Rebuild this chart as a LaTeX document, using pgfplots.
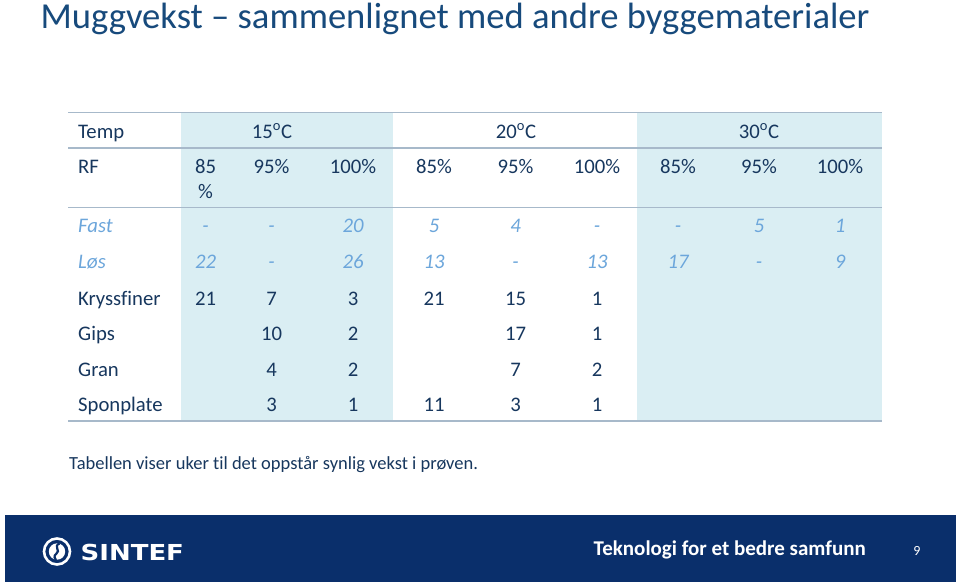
\documentclass[border=0pt]{standalone}
\usepackage{fontspec}
\setmainfont{Carlito}[Ligatures=NoCommon]
\newfontfamily\logofont{DejaVu Sans}
\usepackage{pgfplots}
\pgfplotsset{compat=1.18}
\usepackage{pgfplotstable}

\definecolor{titleblue}{HTML}{174A7C}
\definecolor{dark}{HTML}{17375E}
\definecolor{light}{HTML}{6CA6DB}
\definecolor{shade}{HTML}{DAEEF3}
\definecolor{rule}{HTML}{A7B9CA}
\definecolor{footer}{HTML}{0A2F6B}

% row names
\pgfplotstableread[col sep=comma]{
x,y,label
78,138,Temp
78,173,RF
78,305,Kryssfiner
78,340,Gips
78,376,Gran
78,411,Sponplate
}\rownames

\pgfplotstableread[col sep=comma]{
x,y,label
78,232,Fast
78,268,Løs
}\rownamesit

% header cells
\pgfplotstableread[col sep=comma]{
x,y,label
272,138,15\textsuperscript{o}C
516,138,20\textsuperscript{o}C
759,138,30\textsuperscript{o}C
205.5,173,85
205.5,198,\%
271.5,173,95\%
353,173,100\%
434,173,85\%
515.5,173,95\%
597,173,100\%
678,173,85\%
759,173,95\%
840,173,100\%
}\header

% Fast / Løs (weeks)
\pgfplotstableread[col sep=comma]{
x,y,label
205.5,232,-
271.5,232,-
353,232,20
434,232,5
515.5,232,4
597,232,-
678,232,-
759,232,5
840,232,1
205.5,268,22
271.5,268,-
353,268,26
434,268,13
515.5,268,-
597,268,13
678,268,17
759,268,-
840,268,9
}\woodcells

% other materials (weeks)
\pgfplotstableread[col sep=comma]{
x,y,label
205.5,305,21
271.5,305,7
353,305,3
434,305,21
515.5,305,15
597,305,1
271.5,340,10
353,340,2
515.5,340,17
597,340,1
271.5,376,4
353,376,2
515.5,376,7
597,376,2
271.5,411,3
353,411,1
434,411,11
515.5,411,3
597,411,1
}\matcells

\pgfplotsset{
  txt/.style={only marks, mark=none, nodes near coords, point meta=explicit symbolic,
    nodes near coords style={anchor=base, inner sep=0pt}},
  tline/.style={draw=rule, line width=1.6pt, mark=none},
}

\begin{document}
\begin{tikzpicture}
\begin{axis}[
  scale only axis, width=959pt, height=584pt,
  xmin=0, xmax=959, ymin=0, ymax=584, y dir=reverse,
  hide axis, clip=false,
]
% background
\addplot[fill=white, draw=none] coordinates {(0,0)(959,0)(959,584)(0,584)} -- cycle;

% shaded column groups
\addplot[fill=shade, draw=none] coordinates {(180.5,112)(393,112)(393,421)(180.5,421)} -- cycle;
\addplot[fill=shade, draw=none] coordinates {(637.3,112)(881.5,112)(881.5,421)(637.3,421)} -- cycle;

% table rules
\addplot[tline] coordinates {(68,112.3)(882,112.3)};
\addplot[tline] coordinates {(68,147.7)(882,147.7)};
\addplot[tline] coordinates {(68,207.5)(882,207.5)};
\addplot[tline] coordinates {(68,420.7)(882,420.7)};

% table text
\addplot[txt, nodes near coords style={anchor=base west, font=\fontsize{20.7}{24}\selectfont, text=dark}]
  table[x=x, y=y, meta=label] {\rownames};
\addplot[txt, nodes near coords style={anchor=base west, font=\fontsize{20.7}{24}\selectfont\itshape, text=light}]
  table[x=x, y=y, meta=label] {\rownamesit};
\addplot[txt, nodes near coords style={font=\fontsize{20.7}{24}\selectfont, text=dark}]
  table[x=x, y=y, meta=label] {\header};
\addplot[txt, nodes near coords style={font=\fontsize{20.7}{24}\selectfont\itshape, text=light}]
  table[x=x, y=y, meta=label] {\woodcells};
\addplot[txt, nodes near coords style={font=\fontsize{20.7}{24}\selectfont, text=dark}]
  table[x=x, y=y, meta=label] {\matcells};

% footer band
\addplot[fill=footer, draw=none] coordinates {(5,515)(956,515)(956,581.5)(5,581.5)} -- cycle;

% title and note
\node[anchor=base west, inner sep=0pt, text=titleblue, font=\fontsize{36.6}{40}\selectfont]
  at (axis cs:40.5,28.3) {Muggvekst – sammenlignet med andre byggematerialer};
\node[anchor=base west, inner sep=0pt, text=dark, font=\fontsize{18.5}{22}\selectfont]
  at (axis cs:69,469) {Tabellen viser uker til det oppstår synlig vekst i prøven.};

% logo
\draw[white, line width=2.6pt] (axis cs:57,551.5) circle[radius=13pt];
\fill[white] (axis cs:57,551.5) circle[radius=8.2pt];
\draw[footer, line width=2.2pt] (axis cs:59.5,543.5) .. controls (axis cs:53,546) and (axis cs:61,551) .. (axis cs:56.5,553.5)
  .. controls (axis cs:53,556) and (axis cs:55,559) .. (axis cs:56,560);
\node[anchor=base west, inner sep=0pt, text=white, xscale=1.18, font=\logofont\bfseries\fontsize{22}{24}\selectfont]
  at (axis cs:80.5,560) {SINTEF};

% footer text
\node[anchor=base west, inner sep=0pt, text=white, font=\bfseries\fontsize{21}{24}\selectfont]
  at (axis cs:593.5,555) {Teknologi for et bedre samfunn};
\node[anchor=base, inner sep=0pt, text=white, font=\fontsize{14}{16}\selectfont]
  at (axis cs:917,555) {9};
\end{axis}
\end{tikzpicture}
\end{document}
